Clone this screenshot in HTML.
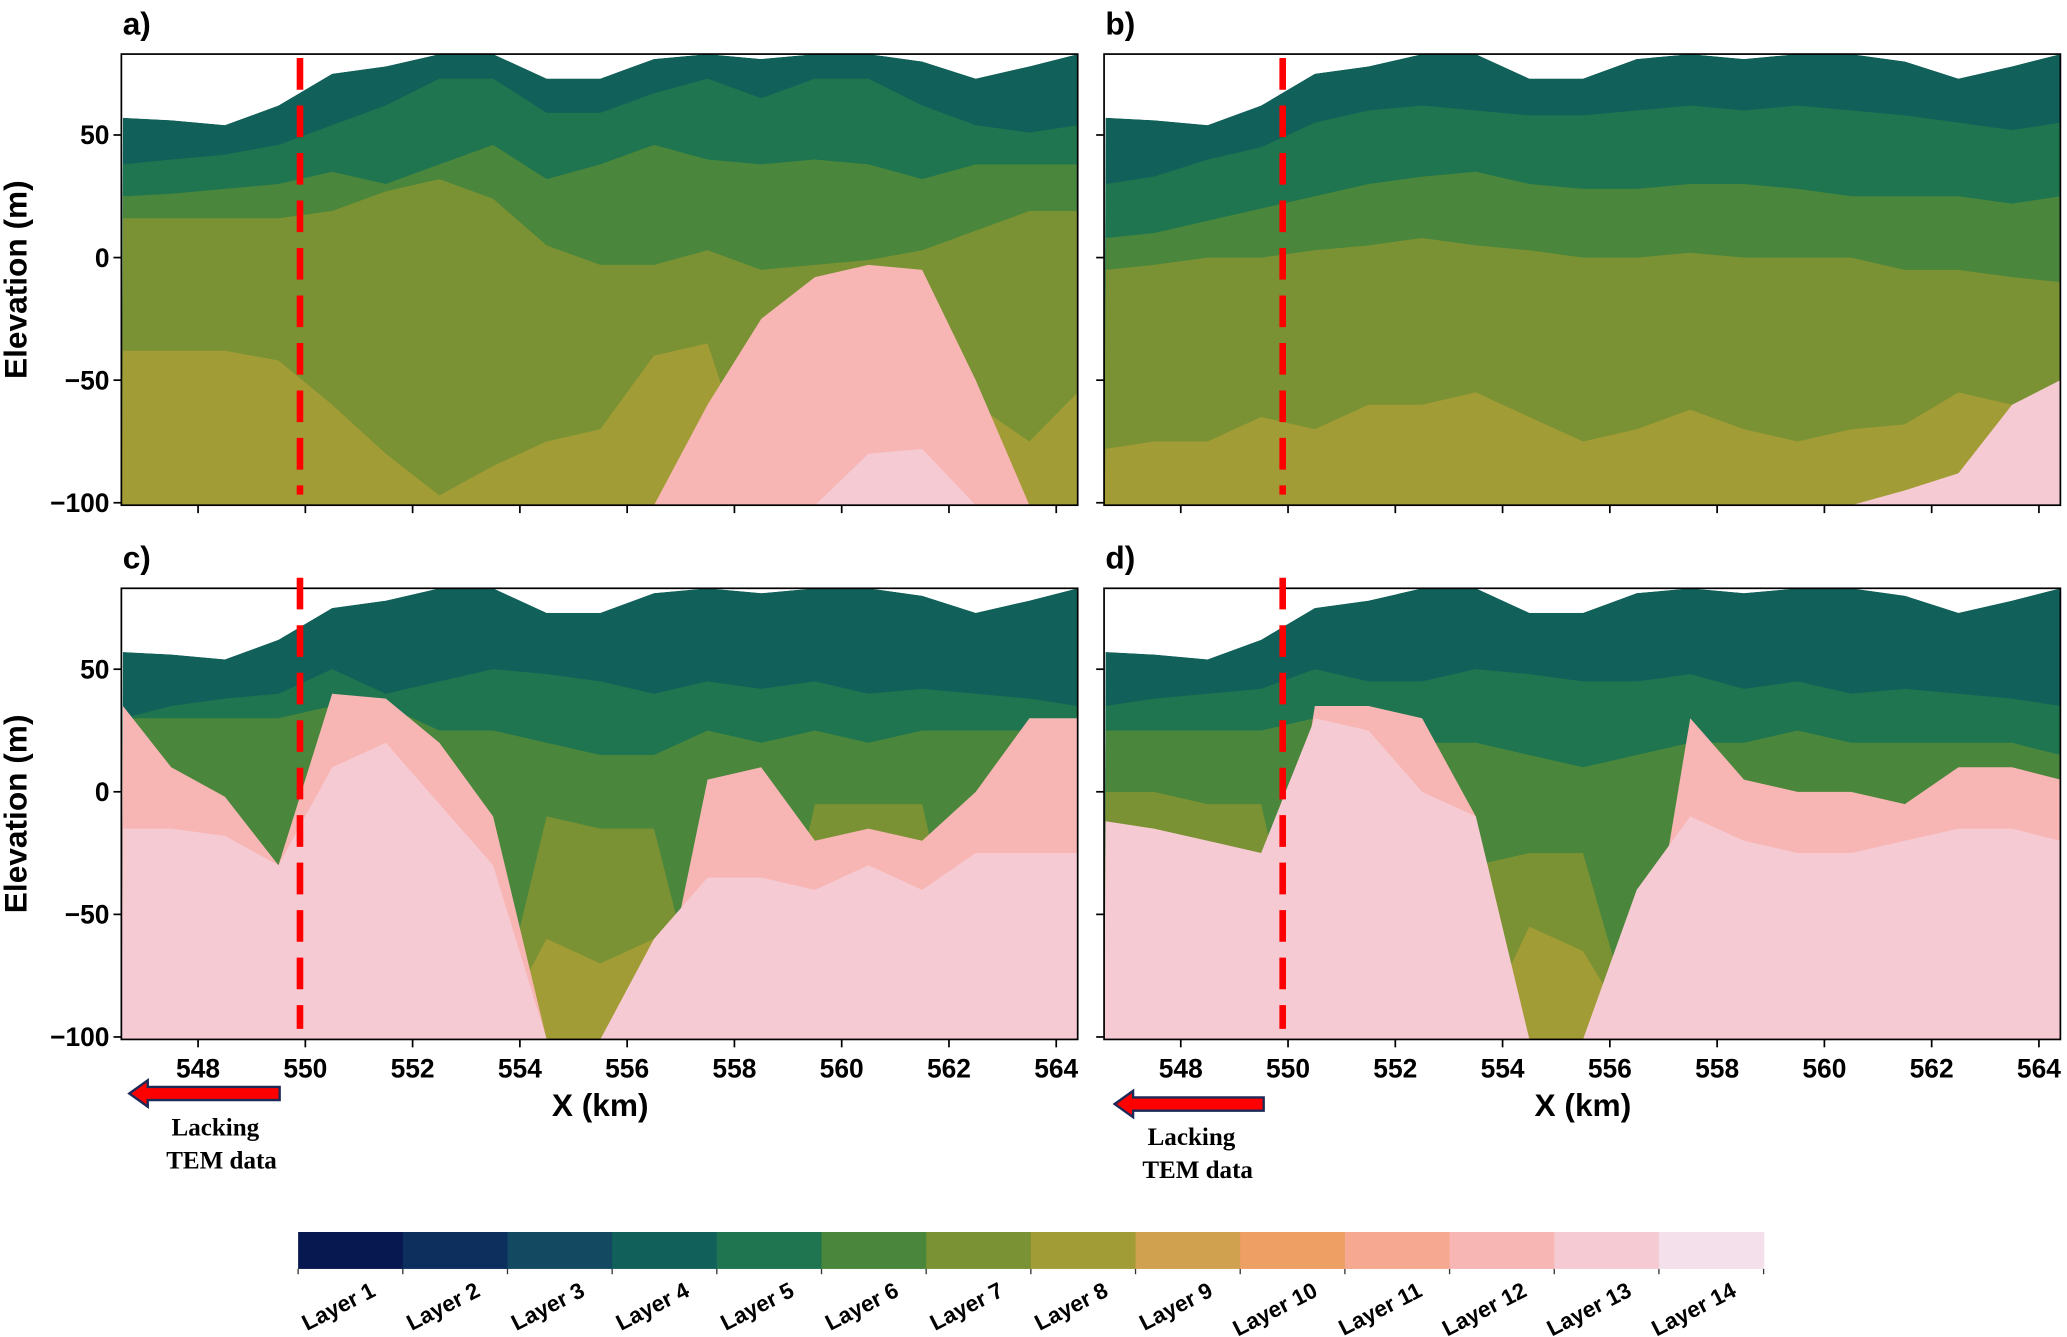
<!DOCTYPE html>
<html><head><meta charset="utf-8"><style>
html,body{margin:0;padding:0;background:#fff;}
svg{display:block;}
</style></head><body>
<svg id="fig" width="2067" height="1337" viewBox="0 0 1567 1013.6" xmlns="http://www.w3.org/2000/svg" font-family="Liberation Sans, Arial, sans-serif"></svg>
<script>
const layerNames = ["Layer 1","Layer 2","Layer 3","Layer 4","Layer 5","Layer 6","Layer 7","Layer 8","Layer 9","Layer 10","Layer 11","Layer 12","Layer 13","Layer 14"];
const layerColors = ["#06184f","#0c2f5e","#134a62","#11605a","#1f754f","#4a863c","#7a9233","#a29c36","#d0a14f","#ee9f63","#f6a890","#f7b6b3","#f6cad3","#f4e0ea"];
const xGrid = [546.6,547.5,548.5,549.5,550.5,551.5,552.5,553.5,554.5,555.5,556.5,557.5,558.5,559.5,560.5,561.5,562.5,563.5,564.4];
const xTicks = [548,550,552,554,556,558,560,562,564];
const yTicks = [50,0,-50,-100];
const topo = [57,56,54,62,75,78,83,83,73,73,81,83,81,83,83,80,73,78,83];
// panel a
const aL5 = [38,40,42,46,54,62,73,73,59,59,67,73,65,73,73,62,54,51,54];
const aL6 = [25,26,28,30,35,30,38,46,32,38,46,40,38,40,38,32,38,38,38];
const aL7 = [16,16,16,16,19,27,32,24,5,-3,-3,3,-5,-3,-1,3,11,19,19];
const aL8 = [-38,-38,-38,-42,-60,-80,-97,-85,-75,-70,-40,-35,-101,-101,-101,-101,-60,-75,-55];
const aL12 = [-101,-101,-101,-101,-101,-101,-101,-101,-101,-101,-101,-60,-25,-8,-3,-5,-50,-101,-101];
const aL13 = [-101,-101,-101,-101,-101,-101,-101,-101,-101,-101,-101,-101,-101,-101,-80,-78,-101,-101,-101];
// panel b
const bL5 = [30,33,40,45,55,60,62,60,58,58,60,62,60,62,60,58,55,52,55];
const bL6 = [8,10,15,20,25,30,33,35,30,28,28,30,30,28,25,25,25,22,25];
const bL7 = [-5,-3,0,0,3,5,8,5,3,0,0,2,0,0,0,-5,-5,-8,-10];
const bL8 = [-78,-75,-75,-65,-70,-60,-60,-55,-65,-75,-70,-62,-70,-75,-70,-68,-55,-60,-70];
const bL13 = [-101,-101,-101,-101,-101,-101,-101,-101,-101,-101,-101,-101,-101,-101,-101,-95,-88,-60,-50];
// panel c
const cL5 = [30,35,38,40,50,40,45,50,48,45,40,45,42,45,40,42,40,38,35];
const cL6 = [30,30,30,30,35,35,25,25,20,15,15,25,20,25,20,25,25,25,25];
const cL7 = [-101,-101,-101,-101,-101,-101,-101,-101,-10,-15,-15,-101,-101,-5,-5,-5,-101,-101,-101];
const cL8 = [-101,-101,-101,-101,-101,-101,-101,-101,-60,-70,-60,-101,-101,-101,-101,-101,-101,-101,-101];
const cL12 = [35,10,-2,-30,40,38,20,-10,-101,-101,-101,5,10,-20,-15,-20,0,30,30];
const cL13 = [-15,-15,-18,-30,10,20,-5,-30,-101,-101,-60,-35,-35,-40,-30,-40,-25,-25,-25];
// panel d
const dL5 = [35,38,40,42,50,45,45,50,48,45,45,48,42,45,40,42,40,38,35];
const dL6 = [25,25,25,25,30,30,20,20,15,10,15,20,20,25,20,20,20,20,15];
const dL7 = [0,0,-5,-5,-101,-101,-101,-30,-25,-25,-101,-101,-101,-101,-101,-101,-101,-101,-101];
const dL8 = [-101,-101,-101,-101,-101,-101,-101,-101,-55,-65,-101,-101,-101,-101,-101,-101,-101,-101,-101];
const dL12 = [-101,-101,-101,-101,35,35,30,-10,-101,-101,-101,30,5,0,0,-5,10,10,5];
const dL13 = [-12,-15,-20,-25,30,25,0,-10,-101,-101,-40,-10,-20,-25,-25,-20,-15,-15,-20];

const NS="http://www.w3.org/2000/svg";
const svg=document.getElementById('fig');
function el(tag,attrs,parent){const e=document.createElementNS(NS,tag);for(const k in attrs)e.setAttribute(k,attrs[k]);(parent||svg).appendChild(e);return e;}

const panels=[
 {id:'a',x0:92,y0:41,layers:[[4,topo],[5,aL5],[6,aL6],[7,aL7],[8,aL8],[12,aL12],[13,aL13]],ylab:true,xlab:false,label:'a)'},
 {id:'b',x0:837,y0:41,layers:[[4,topo],[5,bL5],[6,bL6],[7,bL7],[8,bL8],[13,bL13]],ylab:false,xlab:false,label:'b)'},
 {id:'c',x0:92,y0:446,layers:[[4,topo],[5,cL5],[6,cL6],[7,cL7],[8,cL8],[12,cL12],[13,cL13]],ylab:true,xlab:true,label:'c)'},
 {id:'d',x0:837,y0:446,layers:[[4,topo],[5,dL5],[6,dL6],[7,dL7],[8,dL8],[12,dL12],[13,dL13]],ylab:false,xlab:true,label:'d)'}
];
const W=725,H=342,XMIN=546.57,XMAX=564.4,EMAX=83,EMIN=-101;
panels.forEach(p=>{
  const sx=x=>p.x0+(x-XMIN)/(XMAX-XMIN)*W;
  const sy=e=>p.y0+(EMAX-e)/(EMAX-EMIN)*H;
  const g=el('g',{});
  
  
  const cp=el('clipPath',{id:'clip'+p.id},g);
  el('rect',{x:p.x0,y:p.y0,width:W,height:H},cp);
  const plot=el('g',{'clip-path':'url(#clip'+p.id+')'},g);
  p.layers.forEach(([li,arr])=>{
    let d='M'+sx(XMIN)+','+sy(EMIN-5);
    xGrid.forEach((x,i)=>{d+=' L'+sx(x).toFixed(1)+','+sy(arr[i]).toFixed(1);});
    d+=' L'+sx(XMAX+0.1)+','+sy(arr[arr.length-1]).toFixed(1)+' L'+sx(XMAX+0.1)+','+sy(EMIN-5)+'Z';
    const path=el('path',{d:d,fill:layerColors[li-1]},plot);
    
    
  });
  let d='M'+sx(XMIN-0.1)+','+(p.y0-5);
  xGrid.forEach((x,i)=>{d+=' L'+sx(x).toFixed(1)+','+sy(topo[i]).toFixed(1);});
  d+=' L'+sx(XMAX+0.1)+','+sy(topo[topo.length-1]).toFixed(1)+' L'+sx(XMAX+0.1)+','+(p.y0-5)+'Z';
  const sky=el('path',{d:d,fill:'#ffffff'},plot);
  
  
  const fr=el('rect',{x:p.x0,y:p.y0,width:W,height:H,fill:'none',stroke:'#000','stroke-width':1.3},g);
  
  
  xTicks.forEach(t=>{
    el('line',{x1:sx(t),x2:sx(t),y1:p.y0+H,y2:p.y0+H+6,stroke:'#000','stroke-width':1.3},g);
    if(p.xlab){const tx=el('text',{x:sx(t),y:p.y0+H+29,'text-anchor':'middle','font-size':20,'font-weight':'bold'},g);tx.textContent=t;
      
      }
  });
  yTicks.forEach(t=>{
    el('line',{x1:p.x0-6,x2:p.x0,y1:sy(t),y2:sy(t),stroke:'#000','stroke-width':1.3},g);
    if(p.ylab){const tx=el('text',{x:p.x0-9,y:sy(t)+7,'text-anchor':'end','font-size':20,'font-weight':'bold'},g);tx.textContent=(t<0?'\u2212'+(-t):t);
      
      }
  });
  const lb=el('text',{x:p.x0+1,y:p.y0-15,'font-size':24,'font-weight':'bold'},g);lb.textContent=p.label;
  
  
  if(p.ylab){const yl=el('text',{x:0,y:0,transform:'translate(20,'+(p.y0+H/2)+') rotate(-90)','text-anchor':'middle','font-size':24,'font-weight':'bold'},g);yl.textContent='Elevation (m)';
    
    }
  if(p.xlab){const xl=el('text',{x:p.x0+363,y:p.y0+H+58,'text-anchor':'middle','font-size':24,'font-weight':'bold'},g);xl.textContent='X (km)';
    
    }
  const topY = p.id==='a'?44:(p.id==='b'?44:438);
  const dl=el('line',{x1:sx(549.9),x2:sx(549.9),y1:topY,y2:p.y0+H-8,stroke:'#ff0000','stroke-width':5,'stroke-dasharray':'24 12'},g);
  
  
});
function arrow(x1,x2,y,tx,ty){
  const g=el('g',{});
  
  
  el('polygon',{points:`${x1},${y-5} ${x2+14},${y-5} ${x2+14},${y-10} ${x2},${y} ${x2+14},${y+10} ${x2+14},${y+5} ${x1},${y+5}`,fill:'#ff0000',stroke:'#1c2a5a','stroke-width':1.8},g);
  const t1=el('text',{x:tx,y:ty,'font-size':19,'font-weight':'bold',style:'font-family:"Liberation Serif",serif'},g);t1.textContent='Lacking';
  const t2=el('text',{x:tx-4,y:ty+25,'font-size':19,'font-weight':'bold',style:'font-family:"Liberation Serif",serif'},g);t2.textContent='TEM data';
}
arrow(212,98,829,130,861);
arrow(958,845,837,870,868);
const cb=el('g',{});


const cbx=226,cbw=1111,cby=934,cbh=28,cw=cbw/layerColors.length;
layerColors.forEach((c,i)=>{
  const r=el('rect',{x:cbx+i*cw,y:cby,width:cw+0.5,height:cbh,fill:c},cb);
  
  
  el('line',{x1:cbx+i*cw,x2:cbx+i*cw,y1:cby+cbh,y2:cby+cbh+4,stroke:'#333','stroke-width':1},cb);
  const t=el('text',{x:0,y:0,transform:`translate(${cbx+i*cw+cw/2+20},${cby+cbh+20}) rotate(-27)`,'text-anchor':'end','font-size':17,'font-weight':'bold'},cb);
  t.textContent=layerNames[i];
  
  
});
el('line',{x1:cbx+cbw,x2:cbx+cbw,y1:cby+cbh,y2:cby+cbh+4,stroke:'#333','stroke-width':1},cb);
</script>
</body></html>
